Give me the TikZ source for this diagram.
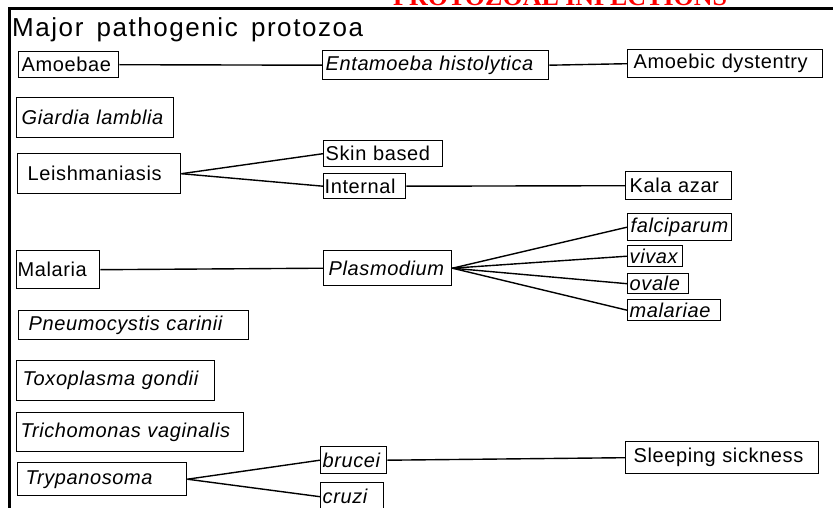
\documentclass[tikz,border=0pt]{standalone}
\usepackage{fontspec}
\setmainfont{Liberation Sans}[LetterSpace=3,WordSpace=1.7]
\newfontfamily\headfont{Liberation Sans}[LetterSpace=6,WordSpace=1.5]
\newfontfamily\redfont{Liberation Serif}
\begin{document}
\begin{tikzpicture}[x=1pt,y=-1pt,
  box/.style n args={3}{draw, line width=1.4pt, rectangle, anchor=north west,
    inner xsep=0pt, inner ysep=0pt, text width=#1, minimum height=#2, align=left,
    execute at begin node={\hspace*{#3}}},
  boxfont/.style={font=\fontsize{20}{22}\selectfont},
  itfont/.style={font=\fontsize{20}{22}\selectfont\itshape},
  link/.style={line width=1.4pt}]
\useasboundingbox (0,0) rectangle (833,508);
% frame
\draw[line width=3pt] (9,508) -- (9,9) -- (833,9);
% titles
\node[anchor=base west, inner sep=0pt, text=red, font=\redfont\bfseries\fontsize{26}{30}\selectfont] (red) at (393,6) {PROTOZOAL INFECTIONS};
\node[anchor=base west, inner sep=0pt, font=\headfont\fontsize{26}{30}\selectfont] (head) at (12,37) {Major pathogenic protozoa};
% boxes
\node[box={100pt}{26pt}{3pt}, boxfont] (amoe) at (18,51) {Amoebae};
\node[box={226pt}{29pt}{3pt}, itfont] (ent) at (322,50) {Entamoeba histolytica};
\node[box={195pt}{28pt}{6pt}, boxfont] (dys) at (627,49) {Amoebic dystentry};
\node[box={157pt}{40pt}{5pt}, itfont] (giar) at (16,97) {Giardia lamblia};
\node[box={163pt}{40pt}{10pt}, boxfont] (leish) at (17,153) {Leishmaniasis};
\node[box={119pt}{26pt}{2pt}, boxfont] (skin) at (323,140) {Skin based};
\node[box={82pt}{25pt}{1pt}, boxfont] (intl) at (323,173) {Internal};
\node[box={106pt}{28pt}{4pt}, boxfont] (kala) at (625,171) {Kala azar};
\node[box={83pt}{38pt}{1pt}, boxfont] (mal) at (16,250) {Malaria};
\node[box={128pt}{35pt}{5pt}, itfont] (plas) at (323,250) {Plasmodium};
\node[box={104pt}{27pt}{3pt}, itfont] (falc) at (627,213) {falciparum};
\node[box={55pt}{21pt}{2pt}, itfont] (viv) at (627,245) {vivax};
\node[box={61pt}{20pt}{2pt}, itfont] (ova) at (627,273) {ovale};
\node[box={93pt}{21pt}{2pt}, itfont] (mala) at (627,299) {malariae};
\node[box={230pt}{29pt}{10pt}, itfont] (pneu) at (18,310) {Pneumocystis carinii};
\node[box={198pt}{40pt}{6pt}, itfont] (toxo) at (16,360) {Toxoplasma gondii};
\node[box={227pt}{39pt}{4pt}, itfont] (tric) at (16,412) {Trichomonas vaginalis};
\node[box={169pt}{33pt}{8pt}, itfont] (tryp) at (17,462) {Trypanosoma};
\node[box={66pt}{27pt}{2pt}, itfont] (bru) at (320,446) {brucei};
\node[box={63pt}{28pt}{2pt}, itfont] (cru) at (320,482) {cruzi};
\node[box={193pt}{32pt}{8pt}, boxfont] (sleep) at (625,441) {Sleeping sickness};
% connectors
\draw[link] (amoe.east) -- (ent.west);
\draw[link] (ent.east) -- (dys.west);
\draw[link] (leish.east) -- (skin.west);
\draw[link] (leish.east) -- (intl.west);
\draw[link] (intl.east) -- (kala.west);
\draw[link] (mal.east) -- (plas.west);
\draw[link] (plas.east) -- (falc.west);
\draw[link] (plas.east) -- (viv.west);
\draw[link] (plas.east) -- (ova.west);
\draw[link] (plas.east) -- (mala.west);
\draw[link] (tryp.east) -- (bru.west);
\draw[link] (tryp.east) -- (cru.west);
\draw[link] (bru.east) -- (sleep.west);
\end{tikzpicture}
\end{document}
